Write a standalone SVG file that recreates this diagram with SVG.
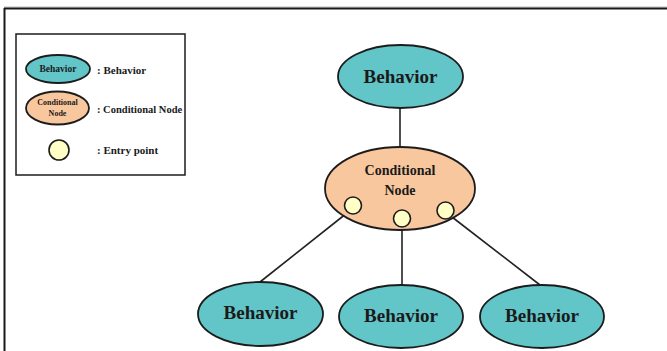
<svg xmlns="http://www.w3.org/2000/svg" width="667" height="351" viewBox="0 0 667 351">
<style>
.beh{fill:#62c5c8;stroke:#1c1c1c;stroke-width:1.8}
.cond{fill:#f9c79e;stroke:#1c1c1c;stroke-width:1.8}
.entry{fill:#ffffc6;stroke:#1c1c1c;stroke-width:1.6}
.t{font-family:"Liberation Serif","Times New Roman",serif;font-weight:bold;fill:#1a1a1a;text-anchor:middle}
.lt{font-family:"Liberation Serif","Times New Roman",serif;font-weight:bold;fill:#1a1a1a}
.edge{stroke:#222;stroke-width:1.6;fill:none}
</style>
<rect width="667" height="351" fill="#ffffff"/>
<g id="frame">
<line x1="4" y1="7" x2="667" y2="7" stroke="#bbbbbb" stroke-width="1"/>
<line x1="4" y1="8.5" x2="667" y2="8.5" stroke="#1a1a1a" stroke-width="2"/>
<line x1="4.5" y1="8" x2="4.5" y2="351" stroke="#1a1a1a" stroke-width="2"/>
</g>
<g id="legend">
<rect x="16" y="34" width="169" height="141" fill="#ffffff" stroke="#1c1c1c" stroke-width="1.5"/>
<ellipse class="beh" cx="58" cy="69" rx="32" ry="14"/>
<text class="t" x="58" y="72" font-size="9.5">Behavior</text>
<text class="lt" x="97" y="74" font-size="11">: Behavior</text>
<ellipse class="cond" cx="57.5" cy="108" rx="31.5" ry="16.5"/>
<text class="t" x="57.5" y="105" font-size="8">Conditional</text>
<text class="t" x="57.5" y="116" font-size="8">Node</text>
<text class="lt" x="97" y="113" font-size="10.5">: Conditional Node</text>
<circle class="entry" cx="59" cy="150" r="10"/>
<text class="lt" x="97" y="154" font-size="11">: Entry point</text>
</g>
<g id="connectors">
<line class="edge" x1="400" y1="108" x2="400" y2="147"/>
<line class="edge" x1="347" y1="213" x2="260" y2="282"/>
<line class="edge" x1="402" y1="227" x2="402" y2="285"/>
<line class="edge" x1="452" y1="217" x2="540" y2="285"/>
</g>
<g id="top-behavior">
<ellipse class="beh" cx="400.5" cy="76.5" rx="62.5" ry="31.5"/>
<text class="t" x="400.5" y="82.5" font-size="19">Behavior</text>
</g>
<g id="conditional-node">
<ellipse class="cond" cx="400" cy="188.5" rx="75" ry="41.5"/>
<text class="t" x="400" y="175" font-size="14">Conditional</text>
<text class="t" x="400" y="195" font-size="14">Node</text>
</g>
<g id="entry-left"><circle class="entry" cx="353" cy="205.5" r="8.5"/></g>
<g id="entry-middle"><circle class="entry" cx="402" cy="218.5" r="8.5"/></g>
<g id="entry-right"><circle class="entry" cx="445.5" cy="210.5" r="8.5"/></g>
<g id="behavior-left">
<ellipse class="beh" cx="260.5" cy="314" rx="62.5" ry="32"/>
<text class="t" x="260.5" y="319" font-size="19">Behavior</text>
</g>
<g id="behavior-middle">
<ellipse class="beh" cx="401" cy="316.5" rx="62" ry="31.5"/>
<text class="t" x="401" y="322" font-size="19">Behavior</text>
</g>
<g id="behavior-right">
<ellipse class="beh" cx="542" cy="316.5" rx="62" ry="31.5"/>
<text class="t" x="542" y="322" font-size="19">Behavior</text>
</g>
</svg>
